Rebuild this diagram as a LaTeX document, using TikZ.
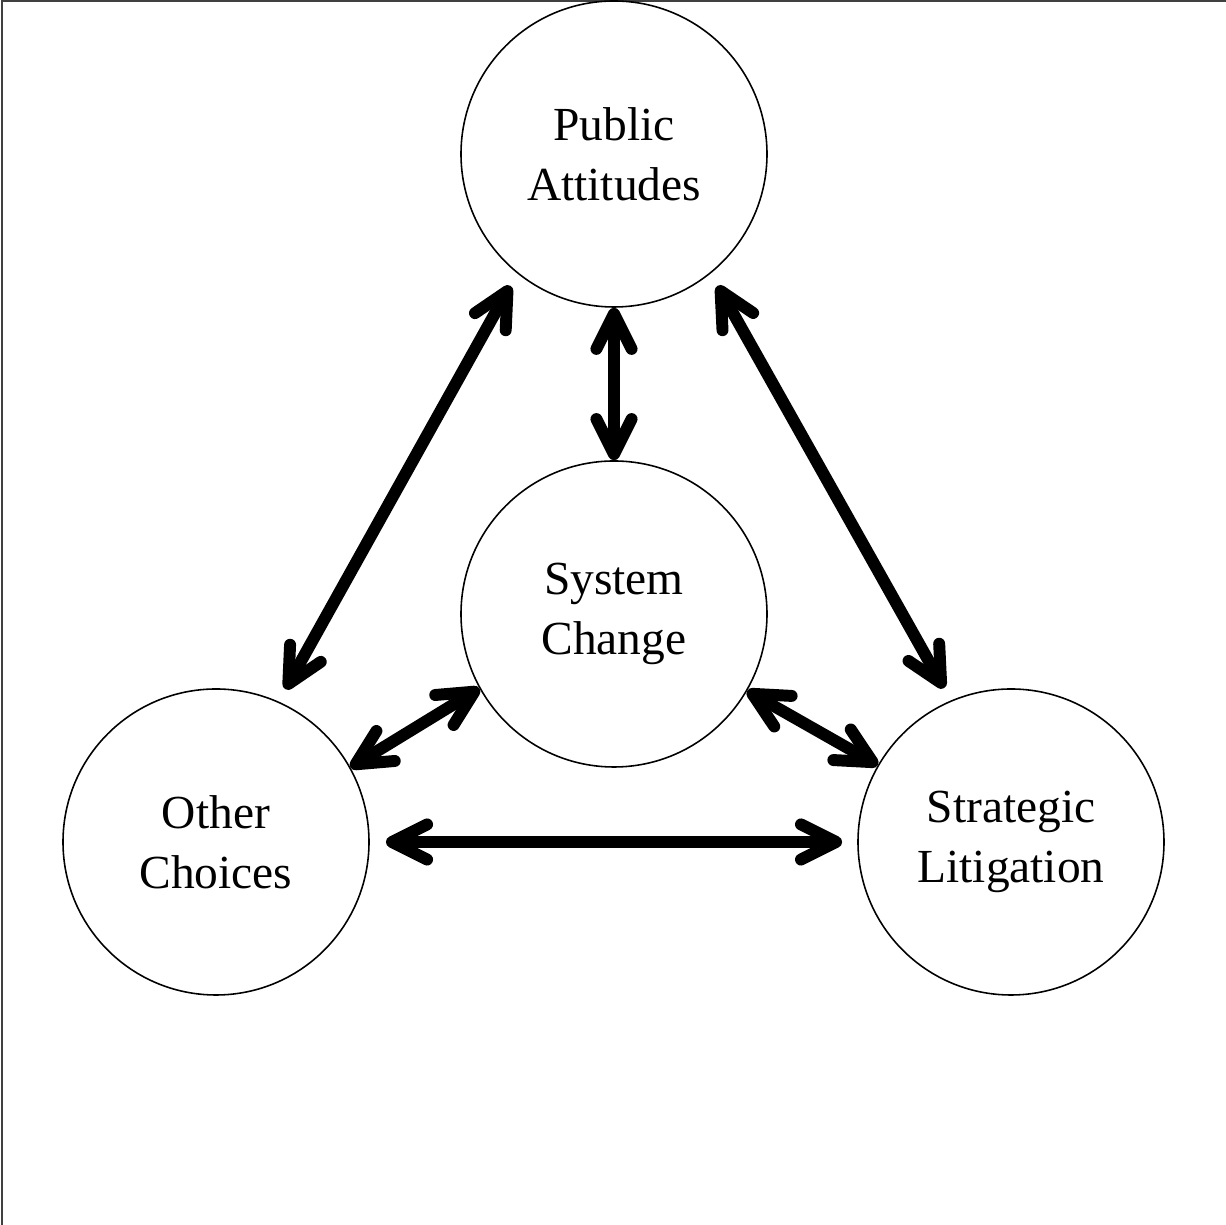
\documentclass[tikz,border=0pt]{standalone}
\usepackage{fontspec}
\setmainfont{Liberation Serif}
\usetikzlibrary{arrows.meta}
\begin{document}
\begin{tikzpicture}[
    bubble/.style={draw=black, circle, line width=0.45pt, minimum size=3.06cm,
        inner sep=0pt, align=center, font=\fontsize{13.5}{17}\selectfont},
    link/.style={line width=3.4pt, {Straight Barb[length=10pt,width=10pt,round]}-{Straight Barb[length=10pt,width=10pt,round]}}
  ]
    \useasboundingbox (0,0) rectangle (12.26,-12.25);
    \draw [black!75, line width=0.5pt] (0.02,-12.25) -- (0.02,-0.01) -- (12.26,-0.01);
    \node [bubble] (pa) at (6.14,-1.54) {Public\\Attitudes};
    \node [bubble] (sc) at (6.14,-6.14) {System\\Change};
    \node [bubble] (oc) at (2.16,-8.42) {Other\\Choices};
    \node [bubble] (sl) at (10.11,-8.42) {Strategic\\Litigation};
    \draw [link] (pa.south) -- (sc.north);
    \draw [link, shorten <=4pt, shorten >=4pt] (oc.66) -- (pa.231);
    \draw [link, shorten <=4pt, shorten >=4pt] (pa.309) -- (sl.113);
    \draw [link] (oc.29) -- (sc.209);
    \draw [link] (sc.330) -- (sl.150);
    \draw [link, shorten <=4.6pt, shorten >=4.3pt] (oc.east) -- (sl.west);
\end{tikzpicture}
\end{document}
